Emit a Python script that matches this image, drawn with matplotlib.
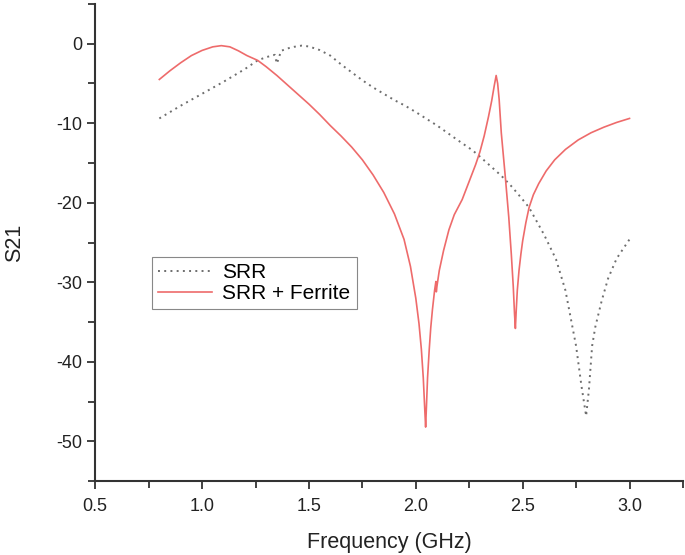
import matplotlib
matplotlib.use('Agg')
import matplotlib.pyplot as plt
from matplotlib.ticker import MultipleLocator

plt.rcParams['font.family'] = ['Liberation Sans', 'DejaVu Sans']
plt.rcParams['axes.unicode_minus'] = False

# SRR (dotted grey)
srr_f = [0.80, 0.90, 1.00, 1.10, 1.20, 1.26, 1.30, 1.34, 1.35, 1.37, 1.40, 1.43,
         1.465, 1.50, 1.55, 1.60, 1.65, 1.70, 1.75, 1.80, 1.85, 1.90, 1.95, 2.00,
         2.10, 2.20, 2.265, 2.30, 2.40, 2.45, 2.50, 2.53, 2.60, 2.656, 2.70, 2.75,
         2.775, 2.797, 2.81, 2.825, 2.84, 2.87, 2.90, 2.94, 3.00]
srr_s21 = [-9.4, -7.8, -6.3, -4.8, -3.2, -2.1, -1.7, -1.4, -2.5, -0.9, -0.6, -0.4,
           -0.25, -0.35, -0.8, -1.5, -2.6, -3.6, -4.6, -5.5, -6.3, -7.1, -7.8, -8.6,
           -10.3, -12.2, -13.4, -14.2, -16.6, -18.0, -19.6, -20.6, -24.0, -27.1, -31.0, -38.0,
           -43.0, -46.8, -43.5, -38.0, -35.6, -32.3, -29.5, -27.0, -24.6]

# SRR + Ferrite (red)
fer_f = [0.80, 0.85, 0.90, 0.95, 1.00, 1.05, 1.09, 1.13, 1.17, 1.21, 1.26, 1.30,
         1.35, 1.40, 1.45, 1.50, 1.55, 1.60, 1.65, 1.70, 1.75, 1.80, 1.85, 1.90,
         1.945, 1.975, 2.00, 2.015, 2.026, 2.035, 2.042, 2.046, 2.050, 2.055, 2.063, 2.07,
         2.078, 2.088, 2.094, 2.096, 2.099, 2.11, 2.13, 2.155, 2.18, 2.217, 2.25, 2.28,
         2.30, 2.32, 2.34, 2.355, 2.367, 2.376, 2.383, 2.39, 2.40, 2.42, 2.435, 2.447,
         2.456, 2.462, 2.466, 2.470, 2.475, 2.483, 2.492, 2.50, 2.515, 2.53, 2.55, 2.575,
         2.61, 2.65, 2.70, 2.76, 2.82, 2.88, 2.94, 3.00]
fer_s21 = [-4.5, -3.4, -2.4, -1.5, -0.85, -0.4, -0.25, -0.4, -0.9, -1.5, -2.1, -2.9,
           -4.0, -5.2, -6.4, -7.6, -8.9, -10.3, -11.6, -13.0, -14.6, -16.5, -18.7, -21.4,
           -24.6, -28.0, -32.0, -35.2, -38.4, -42.0, -46.0, -48.2, -45.5, -42.0, -38.4, -35.7,
           -33.4, -31.0, -29.9, -31.2, -30.5, -28.5, -26.0, -23.4, -21.5, -19.6, -17.3, -15.2,
           -13.6, -11.6, -9.2, -7.2, -5.3, -4.0, -5.0, -7.0, -11.2, -17.1, -21.8, -26.5,
           -30.5, -34.0, -35.8, -33.5, -31.0, -28.5, -26.4, -24.8, -22.5, -20.6, -19.0, -17.6,
           -16.0, -14.6, -13.3, -12.1, -11.2, -10.5, -9.9, -9.4]

fig = plt.figure(figsize=(6.85, 5.55), dpi=100)
ax = fig.add_axes([0.139, 0.133, 0.858, 0.86])

ax.plot(srr_f, srr_s21, color='#6e6e6e', linestyle=(0, (1, 2.2)), linewidth=1.4, label='SRR')
ax.plot(fer_f, fer_s21, color='#ee6b6b', linestyle='-', linewidth=1.2, label='SRR + Ferrite')

ax.set_xlim(0.5, 3.25)
ax.set_ylim(-55, 5)
ax.xaxis.set_major_locator(MultipleLocator(0.5))
ax.xaxis.set_minor_locator(MultipleLocator(0.25))
ax.yaxis.set_major_locator(MultipleLocator(10))
ax.yaxis.set_minor_locator(MultipleLocator(5))
ax.xaxis.set_major_formatter(plt.FuncFormatter(lambda v, p: '%.1f' % v))

for s in ['top', 'right']:
    ax.spines[s].set_visible(False)
for s in ['left', 'bottom']:
    ax.spines[s].set_color('#333333')
    ax.spines[s].set_linewidth(1.5)

ax.tick_params(which='both', direction='out', color='#333333', width=1.3, labelsize=13,
               labelcolor='#222222')
ax.tick_params(which='major', length=6)
ax.tick_params(which='minor', length=5)
ax.tick_params(axis='x', pad=6)

ax.set_xlabel('Frequency (GHz)', fontsize=15.5, color='#222222', labelpad=12)
ax.set_ylabel('S21', fontsize=15.5, color='#222222', labelpad=22)

leg = ax.legend(loc='lower left', bbox_to_anchor=(0.096, 0.36), borderaxespad=0,
                fontsize=15, fancybox=False, framealpha=1, edgecolor='#888888',
                handlelength=2.6, handletextpad=0.5, borderpad=0.3, labelspacing=0.1)
leg.get_frame().set_linewidth(0.8)

fig.savefig('out.png', dpi=100)
